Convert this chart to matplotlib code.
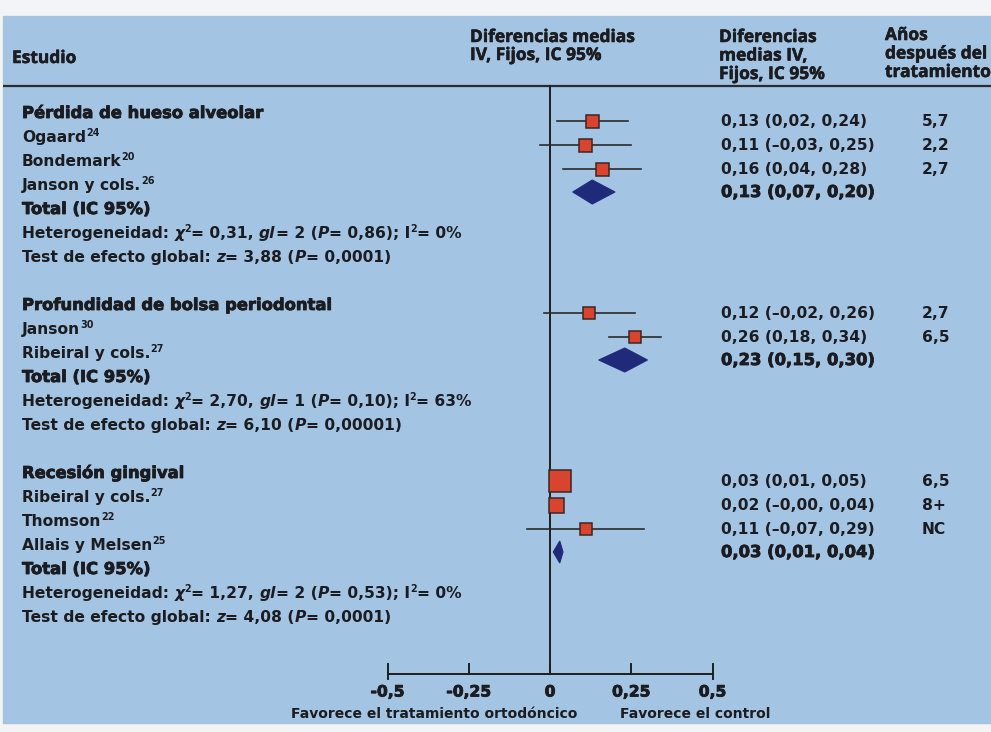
import matplotlib
matplotlib.use("Agg")
import matplotlib.pyplot as plt
from matplotlib.patches import Rectangle, Polygon
import matplotlib.patheffects as pe

# ---------------- data ----------------
group_titles = ["Pérdida de hueso alveolar", "Profundidad de bolsa periodontal", "Recesión gingival"]
study_names = [["Ogaard", "Bondemark", "Janson y cols."],
               ["Janson", "Ribeiral y cols."],
               ["Ribeiral y cols.", "Thomson", "Allais y Melsen"]]
study_refs = [["24", "20", "26"], ["30", "27"], ["27", "22", "25"]]
study_md = [[0.13, 0.11, 0.16], [0.12, 0.26], [0.03, 0.02, 0.11]]
study_lo = [[0.02, -0.03, 0.04], [-0.02, 0.18], [0.01, -0.0, -0.07]]
study_hi = [[0.24, 0.25, 0.28], [0.26, 0.34], [0.05, 0.04, 0.29]]
study_weight = [[13, 13, 13], [12, 12], [22, 15, 12]]
study_years = [["5,7", "2,2", "2,7"], ["2,7", "6,5"], ["6,5", "8+", "NC"]]
total_md = [0.13, 0.23, 0.03]
total_lo = [0.07, 0.15, 0.01]
total_hi = [0.20, 0.30, 0.04]
het_chi2 = ["0,31", "2,70", "1,27"]
het_df = ["2", "1", "2"]
het_p = ["0,86", "0,10", "0,53"]
het_i2 = ["0%", "63%", "0%"]
eff_z = ["3,88", "6,10", "4,08"]
eff_p = ["0,0001", "0,00001", "0,0001"]
tick_values = [-0.5, -0.25, 0, 0.25, 0.5]
tick_labels = ["-0,5", "-0,25", "0", "0,25", "0,5"]

# ---------------- layout ----------------
W, H = 991, 732
ZERO_PX, SCALE = 550, 325.0
ROW0, ROW_H = 113, 24
BLUE = "#a3c5e3"
TXT = "#1c1c20"
RED = "#d9442e"
NAVY = "#202a7a"
BODY = ["DejaVu Sans"]
HEADF = ["Open Sans", "DejaVu Sans"]
FS = 11.2
FS_HEAVY = 11.8
HEAVY = [pe.withStroke(linewidth=0.6, foreground=TXT)]

fig = plt.figure(figsize=(W / 100, H / 100), dpi=100)
fig.patch.set_facecolor("#f3f4f6")
bg = fig.add_axes([0, 0, 1, 1])
bg.set_xlim(0, W)
bg.set_ylim(H, 0)
bg.axis("off")
bg.add_patch(Rectangle((3, 16), W - 3, 723 - 16, color=BLUE, zorder=0))

ax = fig.add_axes([0, 0, 1, 1])
ax.patch.set_alpha(0)
ax.set_xlim(-ZERO_PX / SCALE, (W - ZERO_PX) / SCALE)
ax.set_ylim(H, 0)
ax.axis("off")

renderer = fig.canvas.get_renderer()


def rich(x, y, parts):
    """parts: list of (text, heavy, style, sup)"""
    cur = x
    for s, heavy, style, sup in parts:
        size = FS_HEAVY if heavy else FS
        fs = size * 0.62 if sup else size
        yy = y - 6 if sup else y
        t = bg.text(cur, yy, s, family=BODY, fontsize=fs, fontweight="bold",
                    fontstyle=style, color=TXT, ha="left", va="baseline",
                    path_effects=HEAVY if heavy else None)
        bb = t.get_window_extent(renderer)
        cur = bg.transData.inverted().transform((bb.x1, bb.y0))[0]
    return cur


def fmt(v):
    return ("%.2f" % v).replace(".", ",").replace("-", "\u2013")


# header
hw = dict(family=HEADF, fontsize=12.5, fontweight="bold", color=TXT, va="center", ha="left",
          path_effects=[pe.withStroke(linewidth=0.4, foreground=TXT)])
bg.text(12, 58, "Estudio", **hw)
bg.text(470, 37, "Diferencias medias", **hw)
bg.text(470, 55, "IV, Fijos, IC 95%", **hw)
for i, s in enumerate(["Diferencias", "medias IV,", "Fijos, IC 95%"]):
    bg.text(719, 37 + 18.5 * i, s, **hw)
for i, s in enumerate(["Años", "después del", "tratamiento"]):
    bg.text(885, 35 + 18.5 * i, s, **hw)
bg.plot([3, W], [86, 86], color="#2a2a30", lw=1.6, solid_capstyle="butt")

# body
k = 0
for g in range(len(group_titles)):
    base = lambda kk: ROW0 + ROW_H * kk + 5
    rich(22, base(k), [(group_titles[g], True, "normal", False)])
    n = len(study_names[g])
    for j in range(n):
        rich(22, base(k + 1 + j), [(study_names[g][j], False, "normal", False),
                                   (study_refs[g][j], False, "normal", True)])
        ym = ROW0 + ROW_H * (k + j) + 8
        ax.plot([study_lo[g][j], study_hi[g][j]], [ym, ym], color="#2b2b2b", lw=1.2, zorder=3)
        s = study_weight[g][j] / SCALE
        ax.add_patch(Rectangle((study_md[g][j] - s / 2, ym - study_weight[g][j] / 2), s,
                               study_weight[g][j], facecolor=RED, edgecolor="#3a2622",
                               lw=1.1, zorder=4))
        rich(721, ym + 5, [("%s (%s, %s)" % (fmt(study_md[g][j]), fmt(study_lo[g][j]),
                                            fmt(study_hi[g][j])), False, "normal", False)])
        rich(922, ym + 5, [(study_years[g][j], False, "normal", False)])
    # total
    rich(22, base(k + 1 + n), [("Total (IC 95%)", True, "normal", False)])
    yd = ROW0 + ROW_H * (k + n) + 7
    hh = 24 if g < 2 else 22
    ax.add_patch(Polygon([(total_lo[g], yd), (total_md[g], yd - hh / 2),
                          (total_hi[g], yd), (total_md[g], yd + hh / 2)],
                         closed=True, facecolor=NAVY, edgecolor=NAVY, lw=0.8, zorder=4))
    rich(721, yd + 5, [("%s (%s, %s)" % (fmt(total_md[g]), fmt(total_lo[g]), fmt(total_hi[g])),
                        True, "normal", False)])
    rich(22, base(k + 2 + n), [("Heterogeneidad: ", False, "normal", False),
                               ("\u03c7", False, "italic", False),
                               ("2", False, "normal", True),
                               ("= %s, " % het_chi2[g], False, "normal", False),
                               ("gl", False, "italic", False),
                               ("= %s (" % het_df[g], False, "normal", False),
                               ("P", False, "italic", False),
                               ("= %s); I" % het_p[g], False, "normal", False),
                               ("2", False, "normal", True),
                               ("= %s" % het_i2[g], False, "normal", False)])
    rich(22, base(k + 3 + n), [("Test de efecto global: ", False, "normal", False),
                               ("z", False, "italic", False),
                               ("= %s (" % eff_z[g], False, "normal", False),
                               ("P", False, "italic", False),
                               ("= %s)" % eff_p[g], False, "normal", False)])
    k += n + 4 + 1

# zero line and axis
AX_Y = 674
ax.plot([0, 0], [86, AX_Y], color="#1e1e1e", lw=1.4, zorder=2)
ax.plot([tick_values[0], tick_values[-1]], [AX_Y, AX_Y], color="#1e1e1e", lw=1.4)
for i, (v, lab) in enumerate(zip(tick_values, tick_labels)):
    end = i in (0, len(tick_values) - 1)
    ax.plot([v, v], [AX_Y - 10, AX_Y + (5 if end else 0)], color="#1e1e1e", lw=1.4)
    ax.text(v, 692, lab, family=BODY, fontsize=FS, fontweight="bold", color=TXT,
            ha="center", va="center", path_effects=HEAVY)
bg.text(291, 714, "Favorece el tratamiento ortodóncico", family=BODY, fontsize=10,
        fontweight="bold", color=TXT, ha="left", va="center")
bg.text(620, 714, "Favorece el control", family=BODY, fontsize=10,
        fontweight="bold", color=TXT, ha="left", va="center")

fig.savefig("out.png", dpi=100, facecolor=fig.get_facecolor())
